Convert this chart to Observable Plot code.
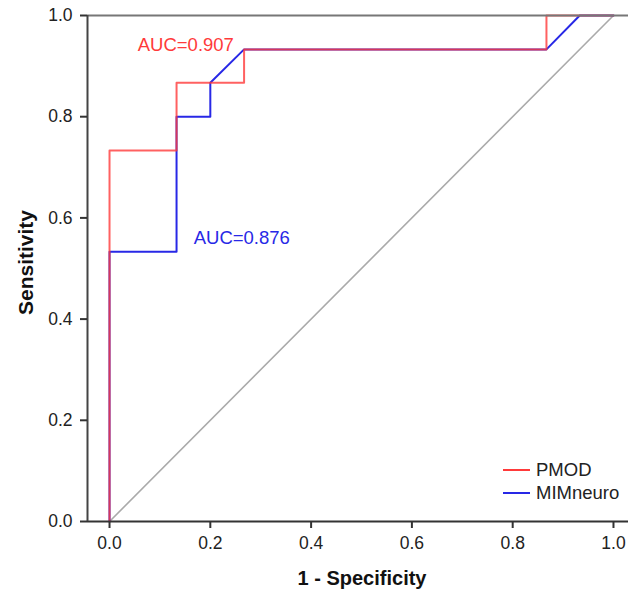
<!DOCTYPE html>
<html>
<head>
<meta charset="utf-8">
<script src="https://cdn.jsdelivr.net/npm/d3@7"></script>
<script src="https://cdn.jsdelivr.net/npm/@observablehq/plot@0.6"></script>
<style>
  body { margin: 0; background: #fff; }
  #wrap { position: relative; width: 631px; height: 590px; font-family: "Liberation Sans", Arial, sans-serif; }
  #legend { position: absolute; left: 503px; top: 458px; font-size: 18.5px; line-height: 23px; color: #222; }
  #legend .row { display: flex; align-items: center; white-space: nowrap; }
  #legend .sw { display: inline-block; width: 27px; height: 2px; margin-right: 6px; }
</style>
</head>
<body>
<div id="wrap"></div>
<script>
// ROC curve points (1 - specificity, sensitivity)
const pmodFpr = [0, 0, 0.133, 0.133, 0.267, 0.267, 0.867, 0.867, 1.0];
const pmodTpr = [0, 0.733, 0.733, 0.867, 0.867, 0.933, 0.933, 1.0, 1.0];
const mimFpr  = [0, 0, 0.133, 0.133, 0.2, 0.2, 0.267, 0.867, 0.933, 1.0];
const mimTpr  = [0, 0.533, 0.533, 0.8, 0.8, 0.867, 0.933, 0.933, 1.0, 1.0];
const refLine = [0, 1];
const seriesNames = ["PMOD", "MIMneuro"];
const seriesColors = ["#ff3a3a", "#2828e6"];
const aucLabels = ["AUC=0.907", "AUC=0.876"];
const aucX = [0.056, 0.167];
const aucY = [0.929, 0.549];
const tickValues = [0, 0.2, 0.4, 0.6, 0.8, 1.0];
const xDomain = [-0.0437, 1.0298];
const yDomain = [0, 1];

const pmod = pmodFpr.map((x, i) => ({x, y: pmodTpr[i]}));
const mim = mimFpr.map((x, i) => ({x, y: mimTpr[i]}));
const diag = refLine.map(v => ({x: v, y: v}));
const labels = aucLabels.map((t, i) => ({t, x: aucX[i], y: aucY[i], c: seriesColors[i]}));

const font = '"Liberation Sans", Arial, sans-serif';

const chart = Plot.plot({
  width: 631,
  height: 590,
  marginLeft: 87,
  marginRight: 3,
  marginTop: 15,
  marginBottom: 69,
  style: {fontFamily: font, background: "#fff", color: "#222"},
  x: {domain: xDomain},
  y: {domain: yDomain},
  marks: [
    Plot.line(diag, {x: "x", y: "y", stroke: "#aaaaaa", strokeWidth: 1.6}),
    Plot.line(mim, {x: "x", y: "y", stroke: seriesColors[1], strokeWidth: 2}),
    Plot.line(pmod, {x: "x", y: "y", stroke: seriesColors[0], strokeWidth: 2, strokeOpacity: 0.8}),
    Plot.ruleY([yDomain[1]], {stroke: "#777", strokeWidth: 2}),
    Plot.ruleY([yDomain[0]], {stroke: "#333", strokeWidth: 2}),
    Plot.ruleX([xDomain[0]], {stroke: "#444", strokeWidth: 2}),
    Plot.axisX({ticks: tickValues, tickFormat: d3.format(".1f"), tickSize: 7, tickPadding: 8, fontSize: 17.5, label: null, stroke: "#333", strokeWidth: 2, color: "#222"}),
    Plot.axisY({ticks: tickValues, tickFormat: d3.format(".1f"), tickSize: 7, tickPadding: 8, fontSize: 17.5, label: null, stroke: "#333", strokeWidth: 2, color: "#222"}),
    Plot.text(labels, {x: "x", y: "y", text: "t", fill: "c", fontSize: 18.5, textAnchor: "start", lineAnchor: "bottom"}),
    Plot.text(["1 - Specificity"], {frameAnchor: "bottom", text: d => d, fontSize: 20, fontWeight: "bold", textAnchor: "middle", lineAnchor: "bottom", dx: 4, dy: 63, fill: "#111"}),
    Plot.text(["Sensitivity"], {frameAnchor: "left", text: d => d, fontSize: 21, fontWeight: "bold", rotate: -90, textAnchor: "middle", lineAnchor: "bottom", dx: -55, dy: -6, fill: "#111"})
  ]
});

const wrap = document.getElementById("wrap");
wrap.appendChild(chart);

const legend = document.createElement("div");
legend.id = "legend";
seriesNames.forEach((name, i) => {
  const row = document.createElement("div");
  row.className = "row";
  const sw = document.createElement("span");
  sw.className = "sw";
  sw.style.background = seriesColors[i];
  const lab = document.createElement("span");
  lab.textContent = name;
  row.appendChild(sw);
  row.appendChild(lab);
  legend.appendChild(row);
});
wrap.appendChild(legend);
</script>
</body>
</html>
